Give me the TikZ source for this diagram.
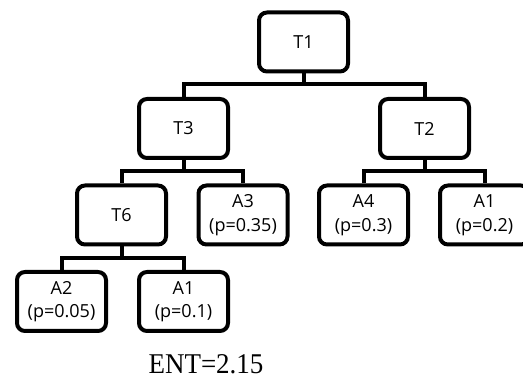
\documentclass[tikz,border=0pt]{standalone}
\usepackage{fontspec}
\setmainfont{Liberation Serif}
\newfontfamily\boxfont{Open Sans}
\begin{document}
\begin{tikzpicture}[x=1pt,y=-1pt,
  treebox/.style={draw=black, line width=4pt, rounded corners=8pt, fill=white,
    minimum width=89pt, minimum height=59pt, inner sep=0pt, align=center,
    font=\boxfont\fontsize{18}{23.5}\selectfont},
  link/.style={draw=black, line width=4pt}]
\useasboundingbox[fill=white] (0,0) rectangle (523,379);
\begin{scope}
\clip (0,0) rectangle (523,379);
% tree nodes
\node[treebox] (t1) at (303.5,42) {T1};
\node[treebox] (t3) at (183.5,128.5) {T3};
\node[treebox] (t2) at (424.5,128.5) {T2};
\node[treebox] (t6) at (121.5,215) {T6};
\node[treebox] (a3) at (243,215) {A3\\(p=0.35)};
\node[treebox] (a4) at (363.5,215) {A4\\(p=0.3)};
\node[treebox] (a1r) at (484.5,215) {A1\\(p=0.2)};
\node[treebox] (a2) at (61.5,301.5) {A2\\(p=0.05)};
\node[treebox] (a1) at (183.5,301.5) {A1\\(p=0.1)};
% branch points
\coordinate (b1) at (303.5,84.5);
\coordinate (b3) at (183.5,171.5);
\coordinate (b2) at (424.5,171.5);
\coordinate (b6) at (121.5,258.5);
% connectors
\draw[link] (t1) -- (b1);
\draw[link] (t3) |- (b1) -| (t2);
\draw[link] (t3) -- (b3);
\draw[link] (t6) |- (b3) -| (a3);
\draw[link] (t2) -- (b2);
\draw[link] (a4) |- (b2) -| (a1r);
\draw[link] (t6) -- (b6);
\draw[link] (a2) |- (b6) -| (a1);
\end{scope}
\node[font=\fontsize{27}{30}\selectfont, inner sep=0pt] (ent) at (206,364.5) {\scalebox{1}[1.06]{ENT=2.15}};
\end{tikzpicture}
\end{document}
